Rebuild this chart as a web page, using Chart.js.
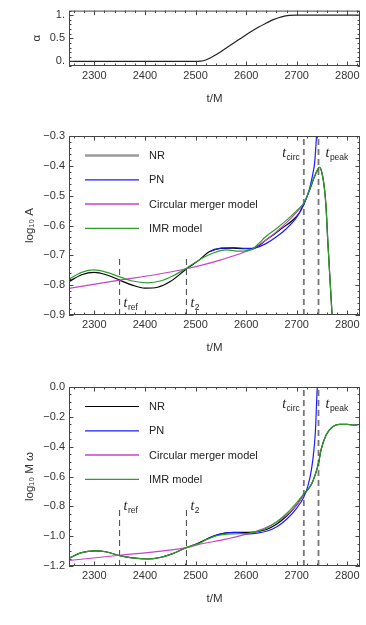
<!DOCTYPE html>
<html>
<head>
<meta charset="utf-8">
<script src="https://cdn.jsdelivr.net/npm/chart.js@4.4.0/dist/chart.umd.min.js"></script>
<style>
  body { margin: 0; background: #fff; }
  #wrap { position: relative; width: 366px; height: 625px; }
  canvas { position: absolute; left: 0; }
</style>
</head>
<body>
<div id="wrap">
  <canvas id="c1" width="366" height="120" style="top:0px"></canvas>
  <canvas id="c2" width="366" height="250" style="top:120px"></canvas>
  <canvas id="c3" width="366" height="255" style="top:370px"></canvas>
</div>
<script>
// time axis, shared by all panels
const tMin = 2250, tMax = 2825;
const tTicks = [2300, 2400, 2500, 2600, 2700, 2800];

// marker times
const tRef = 2350, t2 = 2482, tCirc = 2714, tPeak = 2743;

// panel 1 : blending function alpha
const alphaT = [2250, 2500, 2510, 2520, 2535, 2550, 2565, 2580, 2595, 2610, 2625, 2640, 2655, 2670, 2685, 2700, 2825];
const alphaV = [0, 0, 0.005, 0.03, 0.11, 0.21, 0.32, 0.43, 0.54, 0.645, 0.745, 0.83, 0.91, 0.965, 0.995, 1, 1];
const alphaTicks = [0, 0.5, 1];
const alphaLabels = ['0.', '0.5', '1.'];

// panel 2 : log10 A
const ampNrT = [2250, 2275, 2300, 2325, 2350, 2375, 2400, 2425, 2450, 2482, 2507, 2527, 2550, 2573, 2600, 2612, 2625, 2639, 2655, 2672, 2690, 2705, 2714, 2725, 2735, 2745, 2750, 2755, 2758, 2761, 2765, 2770];
const ampNrV = [-0.788, -0.765, -0.757, -0.766, -0.783, -0.800, -0.810, -0.807, -0.788, -0.746, -0.716, -0.688, -0.677, -0.676, -0.678, -0.679, -0.668, -0.649, -0.630, -0.608, -0.585, -0.558, -0.528, -0.483, -0.437, -0.405, -0.425, -0.48, -0.54, -0.64, -0.76, -0.905];
const ampPnT = [2530, 2550, 2575, 2600, 2620, 2640, 2660, 2680, 2700, 2714, 2725, 2732, 2735, 2738, 2740, 2742];
const ampPnV = [-0.686, -0.676, -0.674, -0.677, -0.674, -0.660, -0.638, -0.610, -0.572, -0.530, -0.478, -0.425, -0.395, -0.33, -0.26, -0.16];
const ampCircT = [2250, 2350, 2420, 2482, 2550, 2613, 2640, 2672, 2700, 2714];
const ampCircV = [-0.811, -0.783, -0.765, -0.745, -0.715, -0.677, -0.648, -0.603, -0.555, -0.526];
const ampImrT = [2250, 2275, 2300, 2325, 2350, 2375, 2405, 2430, 2455, 2482, 2513, 2535, 2560, 2587, 2612, 2625, 2639, 2660, 2680, 2700, 2714, 2725, 2735, 2745, 2750, 2755, 2758, 2761, 2765, 2770];
const ampImrV = [-0.780, -0.757, -0.749, -0.757, -0.772, -0.786, -0.792, -0.786, -0.769, -0.743, -0.710, -0.692, -0.682, -0.686, -0.680, -0.660, -0.637, -0.610, -0.582, -0.550, -0.525, -0.481, -0.436, -0.405, -0.425, -0.48, -0.54, -0.64, -0.76, -0.905];
const ampTicks = [-0.9, -0.8, -0.7, -0.6, -0.5, -0.4, -0.3];
const ampLabels = ['\u22120.9', '\u22120.8', '\u22120.7', '\u22120.6', '\u22120.5', '\u22120.4', '\u22120.3'];

// panel 3 : log10 M omega
const frqNrT = [2250, 2275, 2302, 2325, 2350, 2375, 2405, 2430, 2455, 2482, 2507, 2525, 2540, 2560, 2580, 2606, 2625, 2640, 2660, 2680, 2700, 2714, 2730, 2743, 2748, 2758, 2771, 2784, 2800, 2812, 2818, 2825];
const frqNrV = [-1.148, -1.110, -1.099, -1.106, -1.131, -1.146, -1.153, -1.143, -1.117, -1.077, -1.045, -1.015, -0.995, -0.978, -0.975, -0.975, -0.967, -0.955, -0.920, -0.865, -0.790, -0.720, -0.646, -0.511, -0.422, -0.322, -0.266, -0.250, -0.250, -0.256, -0.254, -0.250];
const frqPnT = [2530, 2550, 2575, 2606, 2625, 2640, 2660, 2680, 2700, 2714, 2722, 2729, 2734, 2737, 2740, 2742];
const frqPnV = [-1.008, -0.985, -0.975, -0.985, -0.978, -0.967, -0.938, -0.887, -0.812, -0.737, -0.665, -0.556, -0.42, -0.29, -0.04, 0.08];
const frqCircT = [2250, 2350, 2482, 2507, 2560, 2618, 2650, 2680, 2700, 2714];
const frqCircV = [-1.163, -1.128, -1.077, -1.055, -1.020, -0.970, -0.925, -0.858, -0.790, -0.720];
const frqImrT = [2250, 2275, 2302, 2325, 2350, 2375, 2405, 2430, 2455, 2482, 2507, 2525, 2540, 2573, 2606, 2625, 2640, 2660, 2680, 2700, 2714, 2730, 2743, 2748, 2758, 2771, 2784, 2800, 2812, 2818, 2825];
const frqImrV = [-1.148, -1.110, -1.099, -1.106, -1.131, -1.146, -1.153, -1.143, -1.117, -1.077, -1.048, -1.018, -0.999, -0.985, -0.981, -0.965, -0.947, -0.905, -0.848, -0.775, -0.717, -0.646, -0.511, -0.422, -0.322, -0.266, -0.250, -0.250, -0.256, -0.254, -0.250];
const frqTicks = [-1.2, -1.0, -0.8, -0.6, -0.4, -0.2, 0];
const frqLabels = ['\u22121.2', '\u22121.0', '\u22120.8', '\u22120.6', '\u22120.4', '\u22120.2', '0.0'];

const FONT = '"Liberation Sans", Arial, sans-serif';
const C_NR = '#000000', C_PN = '#1c1cff', C_CIRC = '#c644c6', C_IMR = '#2e9e2e';

function series(ts, vs, color, order) {
  return {
    data: ts.map((t, i) => ({ x: t, y: vs[i] })),
    borderColor: color, borderWidth: 1.2, order: order,
    pointRadius: 0, fill: false, cubicInterpolationMode: 'monotone'
  };
}

function marker(t, y0, y1, color, width) {
  return {
    data: [{ x: t, y: y0 }, { x: t, y: y1 }],
    borderColor: color, borderWidth: width, borderDash: [6, 4],
    order: 10, pointRadius: 0, tension: 0, fill: false
  };
}

function line(ctx, x0, y0, x1, y1) {
  ctx.beginPath(); ctx.moveTo(x0, y0); ctx.lineTo(x1, y1); ctx.stroke();
}

function drawT(ctx, x, y, sub, alignRight) {
  ctx.textAlign = 'left';
  ctx.textBaseline = 'alphabetic';
  ctx.font = 'italic 14px "Liberation Serif", serif';
  const wT = ctx.measureText('t').width;
  ctx.font = '8.5px ' + FONT;
  const wS = ctx.measureText(sub).width;
  const x0 = alignRight ? x - wT - wS - 0.5 : x;
  ctx.fillStyle = '#222';
  ctx.font = 'italic 14px "Liberation Serif", serif';
  ctx.fillText('t', x0, y);
  ctx.font = '8.5px ' + FONT;
  ctx.fillText(sub, x0 + wT + 0.5, y + 3);
}

// frame with inward ticks, inset legend and t labels
const framePlugin = {
  id: 'frame',
  afterDraw(chart, args, o) {
    const ctx = chart.ctx;
    const xs = chart.scales.x, ys = chart.scales.y;
    const { left, right, top, bottom } = chart.chartArea;
    ctx.save();
    ctx.strokeStyle = '#444';
    ctx.lineWidth = 1;
    ctx.strokeRect(left + 0.5, top + 0.5, right - left - 1, bottom - top - 1);

    for (let k = Math.ceil(xs.min / o.xMinor); k * o.xMinor <= xs.max; k++) {
      const v = k * o.xMinor;
      const px = Math.round(xs.getPixelForValue(v)) + 0.5;
      const len = tTicks.includes(v) ? 4.5 : 2.5;
      line(ctx, px, bottom, px, bottom - len);
      line(ctx, px, top, px, top + len);
    }
    for (let k = Math.ceil(ys.min / o.yMinor - 1e-6); k * o.yMinor <= ys.max + 1e-9; k++) {
      const v = k * o.yMinor;
      const py = Math.round(ys.getPixelForValue(v)) + 0.5;
      const major = o.yTicks.some(t => Math.abs(t - v) < o.yMinor / 10);
      const len = major ? 4.5 : 2.5;
      line(ctx, left, py, left + len, py);
      line(ctx, right, py, right - len, py);
    }

    if (o.legend) {
      o.legend.forEach((it, i) => {
        const y = top + 19.5 + i * 24.3;
        ctx.strokeStyle = it.color;
        ctx.lineWidth = it.width;
        line(ctx, left + 16, y, left + 70, y);
        ctx.fillStyle = '#222';
        ctx.font = '11px ' + FONT;
        ctx.textAlign = 'left';
        ctx.textBaseline = 'middle';
        ctx.fillText(it.label, left + 80, y + 0.5);
      });
    }

    if (o.labels) {
      o.labels.forEach(lb => {
        const px = xs.getPixelForValue(lb.t);
        const py = lb.y === 'top' ? top + 21 : ys.getPixelForValue(lb.y);
        drawT(ctx, lb.right ? px - 4 : px + lb.dx, py, lb.sub, lb.right);
      });
    }
    ctx.restore();
  }
};

function scales(yMin, yMax, yTicks, yLabels, yTitle, yTitlePad) {
  return {
    x: {
      type: 'linear', min: tMin, max: tMax,
      afterBuildTicks: s => { s.ticks = tTicks.map(v => ({ value: v })); },
      afterFit: s => { s.height = 40; },
      grid: { display: false, drawTicks: false },
      border: { display: false },
      ticks: { autoSkip: false, maxRotation: 0, padding: 3, color: '#333', font: { family: FONT, size: 11 }, callback: v => String(v) },
      title: { display: true, text: 't/M', color: '#333', font: { family: FONT, size: 11.5 }, padding: { top: 0, bottom: 0 } }
    },
    y: {
      type: 'linear', min: yMin, max: yMax,
      afterBuildTicks: s => { s.ticks = yTicks.map(v => ({ value: v })); },
      afterFit: s => { s.width = 69; },
      grid: { display: false, drawTicks: false },
      border: { display: false },
      ticks: { autoSkip: false, padding: 4, color: '#333', font: { family: FONT, size: 11 }, callback: (v, i) => yLabels[i] },
      title: { display: true, text: yTitle, color: '#333', font: { family: FONT, size: 11.5 }, padding: { top: yTitlePad, bottom: 0 } }
    }
  };
}

function panel(id, datasets, sc, pad, frame) {
  return new Chart(document.getElementById(id), {
    type: 'line',
    data: { datasets: datasets },
    options: {
      responsive: false,
      animation: false,
      layout: { padding: pad },
      plugins: { legend: { display: false }, tooltip: { enabled: false }, frame: frame },
      scales: sc
    },
    plugins: [framePlugin]
  });
}

panel('c1',
  [series(alphaT, alphaV, '#222', 0)],
  scales(-0.1, 1.1, alphaTicks, alphaLabels, '\u03b1', 30),
  { top: 8, right: 6, bottom: 14, left: 0 },
  { xMinor: 20, yMinor: 0.1, yTicks: alphaTicks });

panel('c2',
  [
    series(ampImrT, ampImrV, C_IMR, 0),
    series(ampPnT, ampPnV, C_PN, 1),
    series(ampCircT, ampCircV, C_CIRC, 2),
    series(ampNrT, ampNrV, C_NR, 3),
    marker(tRef, -0.9, -0.7, '#444', 1),
    marker(t2, -0.9, -0.7, '#444', 1),
    marker(tCirc, -0.9, -0.3, '#777', 1.8),
    marker(tPeak, -0.9, -0.3, '#777', 1.8)
  ],
  scales(-0.9, -0.3, ampTicks, ampLabels, 'log\u2081\u2080 A', 23),
  { top: 16, right: 6, bottom: 15, left: 0 },
  {
    xMinor: 20, yMinor: 0.02, yTicks: ampTicks,
    legend: [
      { label: 'NR', color: '#9a9a9a', width: 2.5 },
      { label: 'PN', color: C_PN, width: 1.2 },
      { label: 'Circular merger model', color: C_CIRC, width: 1.5 },
      { label: 'IMR model', color: C_IMR, width: 1.2 }
    ],
    labels: [
      { t: tCirc, sub: 'circ', y: 'top', right: true },
      { t: tPeak, sub: 'peak', y: 'top', dx: 7 },
      { t: tRef, sub: 'ref', y: -0.873, dx: 4 },
      { t: t2, sub: '2', y: -0.873, dx: 4 }
    ]
  });

panel('c3',
  [
    series(frqImrT, frqImrV, C_IMR, 0),
    series(frqPnT, frqPnV, C_PN, 1),
    series(frqCircT, frqCircV, C_CIRC, 2),
    series(frqNrT, frqNrV, C_NR, 3),
    marker(tRef, -1.2, -0.8, '#444', 1),
    marker(t2, -1.2, -0.8, '#444', 1),
    marker(tCirc, -1.2, 0, '#777', 1.8),
    marker(tPeak, -1.2, 0, '#777', 1.8)
  ],
  scales(-1.2, 0, frqTicks, frqLabels, 'log\u2081\u2080 M \u03c9', 23),
  { top: 17, right: 6, bottom: 19, left: 0 },
  {
    xMinor: 20, yMinor: 0.05, yTicks: frqTicks,
    legend: [
      { label: 'NR', color: C_NR, width: 1.2 },
      { label: 'PN', color: C_PN, width: 1.2 },
      { label: 'Circular merger model', color: C_CIRC, width: 1.5 },
      { label: 'IMR model', color: C_IMR, width: 1.2 }
    ],
    labels: [
      { t: tCirc, sub: 'circ', y: 'top', right: true },
      { t: tPeak, sub: 'peak', y: 'top', dx: 7 },
      { t: tRef, sub: 'ref', y: -0.825, dx: 4 },
      { t: t2, sub: '2', y: -0.825, dx: 4 }
    ]
  });
</script>
</body>
</html>
